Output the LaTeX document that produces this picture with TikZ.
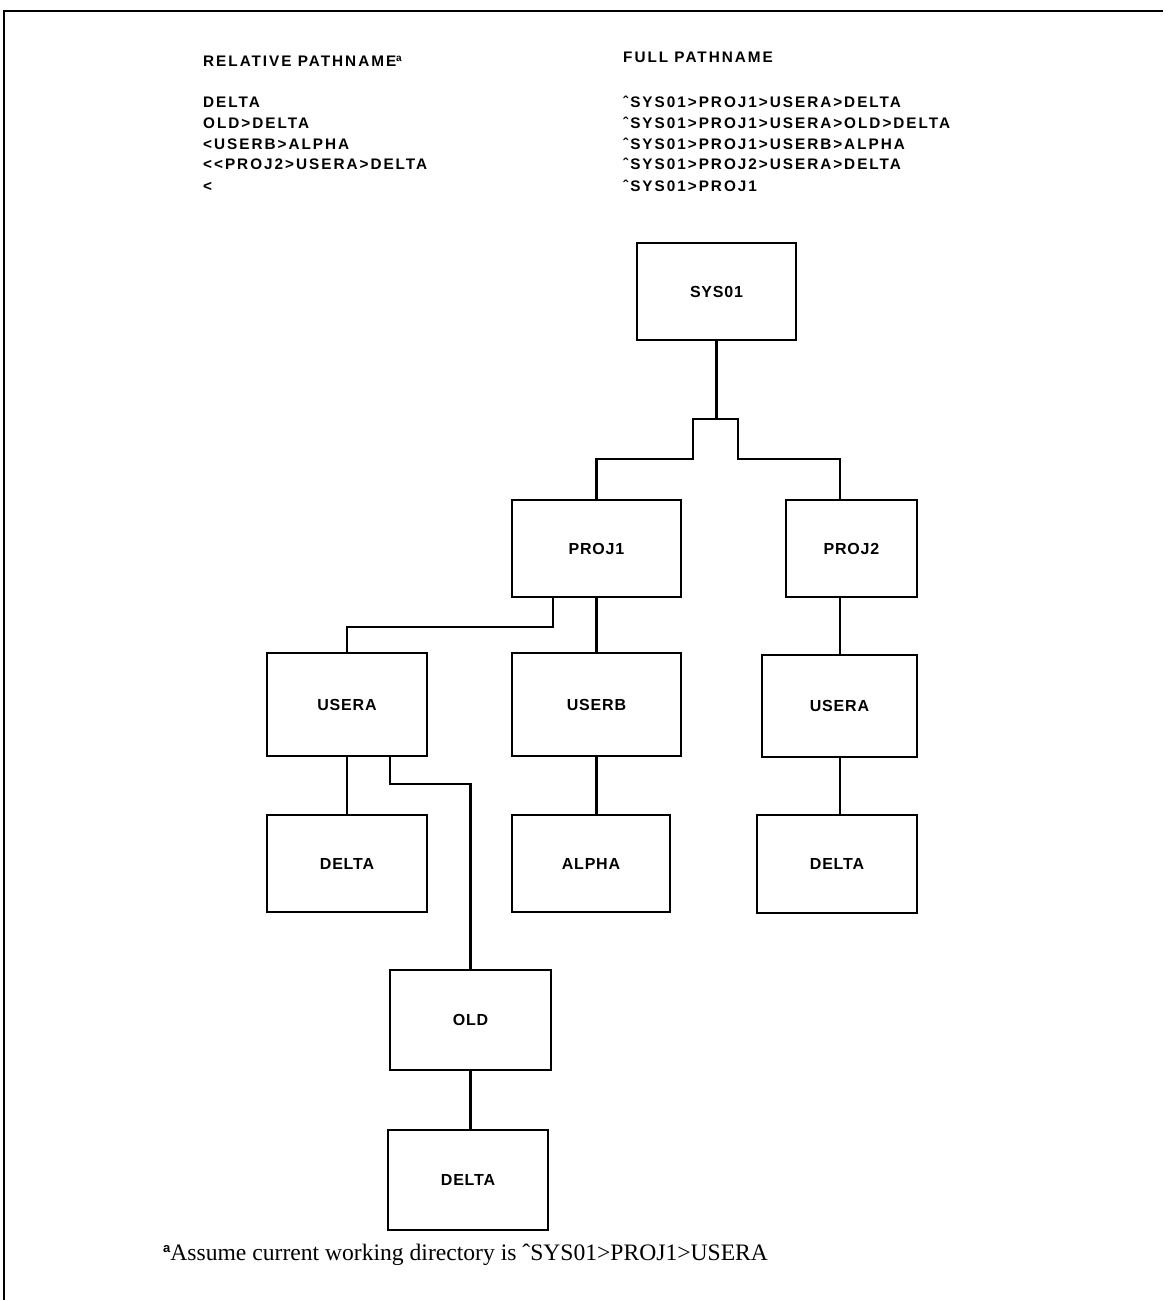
\documentclass[tikz,border=0pt]{standalone}
\usepackage{fontspec}
\setmainfont{Liberation Serif}
\newfontfamily\hdfont[LetterSpace=13]{Liberation Sans}
\newfontfamily\bxfont[LetterSpace=5]{Liberation Sans}
\newfontfamily\supfont{Liberation Sans}
\begin{document}
\begin{tikzpicture}[x=1pt,y=-1pt,
  box/.style={draw,line width=2.4pt,inner sep=0pt,font=\bxfont\bfseries\fontsize{16}{16}\selectfont},
  conn/.style={line width=2.1pt},
  hd/.style={anchor=base west,inner sep=0pt,font=\hdfont\bfseries\fontsize{15.3}{15.3}\selectfont},
  note/.style={anchor=base west,inner sep=0pt,font=\fontsize{23.6}{23.6}\selectfont}]
\useasboundingbox (0,0) rectangle (1163,1300);
% frame
\draw[line width=2.6pt] (4,1300) -- (4,11) -- (1163,11);
% header texts
\node[hd] (rel) at (203,67) {RELATIVE PATHNAME\raisebox{5pt}{\supfont\bfseries\fontsize{10}{10}\selectfont a}};
\node[hd] (r1) at (203,108) {DELTA};
\node[hd] (r2) at (203,129) {OLD>DELTA};
\node[hd] (r3) at (203,150) {<USERB>ALPHA};
\node[hd] (r4) at (203,170) {<<PROJ2>USERA>DELTA};
\node[hd] (r5) at (203,191) {<};
\node[hd] (full) at (623,63) {FULL PATHNAME};
\node[hd] (f1) at (623,108) {ˆSYS01>PROJ1>USERA>DELTA};
\node[hd] (f2) at (623,129) {ˆSYS01>PROJ1>USERA>OLD>DELTA};
\node[hd] (f3) at (623,150) {ˆSYS01>PROJ1>USERB>ALPHA};
\node[hd] (f4) at (623,170) {ˆSYS01>PROJ2>USERA>DELTA};
\node[hd] (f5) at (623,191) {ˆSYS01>PROJ1};
% boxes
\node[box,minimum width=159pt,minimum height=97pt] (sys) at (716.5,291.5) {SYS01};
\node[box,minimum width=169pt,minimum height=97pt] (p1) at (596.5,548.5) {PROJ1};
\node[box,minimum width=131pt,minimum height=97pt] (p2) at (851.5,548.5) {PROJ2};
\node[box,minimum width=160pt,minimum height=103pt] (ua) at (347,704.5) {USERA};
\node[box,minimum width=169pt,minimum height=103pt] (ub) at (596.5,704.5) {USERB};
\node[box,minimum width=155pt,minimum height=102pt] (ur) at (839.5,706) {USERA};
\node[box,minimum width=160pt,minimum height=97pt] (dl) at (347,863.5) {DELTA};
\node[box,minimum width=158pt,minimum height=97pt] (al) at (591,863.5) {ALPHA};
\node[box,minimum width=160pt,minimum height=98pt] (dr) at (837,864) {DELTA};
\node[box,minimum width=161pt,minimum height=100pt] (old) at (470.5,1020) {OLD};
\node[box,minimum width=160pt,minimum height=100pt] (db) at (468,1180) {DELTA};
% junction points
\coordinate (jl) at (693,419);
\coordinate (jr) at (738,419);
\coordinate (kl) at (693,459);
\coordinate (kr) at (738,459);
\coordinate (xr) at (840,459);
\coordinate (m1) at (553,627);
\coordinate (e1) at (390,784);
% connectors
\draw[conn] (sys.south) |- (jl) -- (kl) -| (p1.north);
\draw[conn] (sys.south) |- (jr) -- (kr) -| (p2.north -| xr);
\draw[conn] (p1.south -| m1) -- (m1) -| (ua.north);
\draw[conn] (p1.south -| ub.north) -- (ub.north);
\draw[conn] (p2.south -| xr) -- (ur.north -| xr);
\draw[conn] (ur.south -| xr) -- (dr.north -| xr);
\draw[conn] (ub.south) -- (al.north -| ub.south);
\draw[conn] (ua.south) -- (dl.north);
\draw[conn] (ua.south -| e1) -- (e1) -| (old.north);
\draw[conn] (old.south) -- (db.north -| old.south);
% footnote
\node[note] (fn) at (163,1260) {\raisebox{8pt}{\supfont\bfseries\fontsize{13}{13}\selectfont a}Assume current working directory is ˆSYS01>PROJ1>USERA};
\end{tikzpicture}
\end{document}
